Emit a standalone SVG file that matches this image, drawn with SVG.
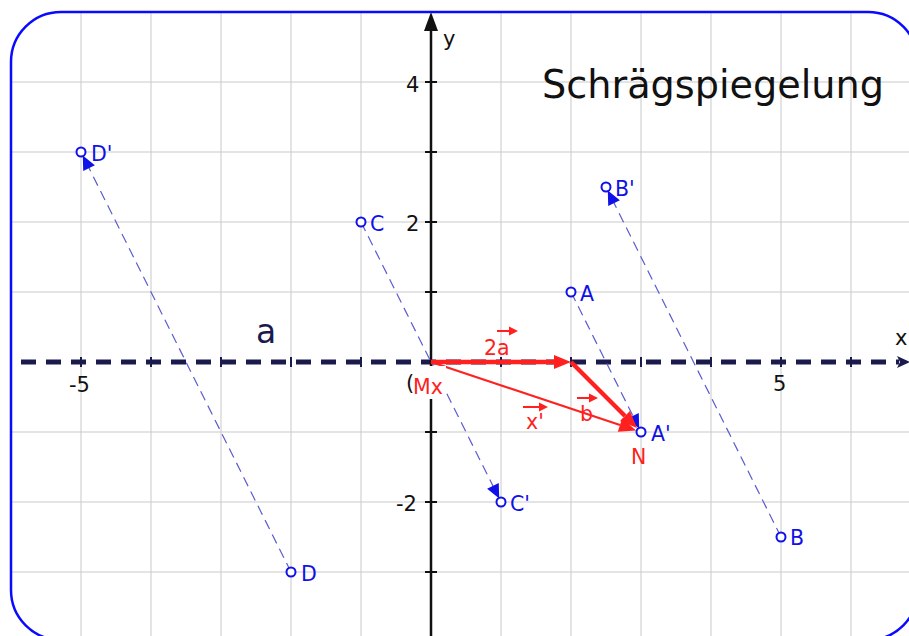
<svg xmlns="http://www.w3.org/2000/svg" width="909" height="636" viewBox="0 0 909 636">
  <style>
    .grid { stroke: #c9c9c9; stroke-width: 1; fill: none; }
    .proj { stroke: #5b5bd2; stroke-width: 1.2; stroke-dasharray: 10 6; fill: none; marker-end: url(#bh); }
    .pt { fill: #ffffff; stroke: #1010e8; stroke-width: 2; }
    .lbl { font-family: "DejaVu Sans", "Liberation Sans", sans-serif; font-size: 20.5px; fill: #1010e8; }
    .tick { font-family: "DejaVu Sans", "Liberation Sans", sans-serif; font-size: 21px; fill: #111111; }
    .red { font-family: "DejaVu Sans", "Liberation Sans", sans-serif; font-size: 20.5px; fill: #ff2020; }
    .vec { stroke: #ff2020; fill: none; marker-end: url(#rh); }
    .lvec { stroke: #ff2020; stroke-width: 2; fill: none; marker-end: url(#sh); }
  </style>
  <defs>
    <clipPath id="frame">
      <rect x="11" y="12" width="907" height="628" rx="50" ry="50"/>
    </clipPath>
    <marker id="bh" markerUnits="userSpaceOnUse" markerWidth="1" markerHeight="1" refX="0" refY="0" orient="auto" overflow="visible">
      <path d="M-4,0 L-18,-6.5 L-18,6.5 Z" fill="#1010e8"/>
    </marker>
    <marker id="rh" markerUnits="userSpaceOnUse" markerWidth="1" markerHeight="1" refX="0" refY="0" orient="auto" overflow="visible">
      <path d="M0,-7 L17,0 L0,7 Z" fill="#ff2020"/>
    </marker>
    <marker id="sh" markerUnits="userSpaceOnUse" markerWidth="1" markerHeight="1" refX="0" refY="0" orient="auto" overflow="visible">
      <path d="M0,-4.5 L9,0 L0,4.5 Z" fill="#ff2020"/>
    </marker>
  </defs>

  <rect x="0" y="0" width="909" height="636" fill="#ffffff"/>

  <g id="background" clip-path="url(#frame)">
    <g id="grid" class="grid">
      <path d="M81,0V640M151,0V640M221,0V640M291,0V640M361,0V640M501,0V640M571,0V640M641,0V640M711,0V640M781,0V640M851,0V640"/>
      <path d="M0,82H918M0,152H918M0,222H918M0,292H918M0,432H918M0,502H918M0,572H918"/>
    </g>

    <g id="axes">
      <line x1="11" y1="362" x2="899" y2="362" stroke="#1a1a4d" stroke-width="5" stroke-dasharray="15 10" stroke-dashoffset="15"/>
      <path d="M897,356 L910,362 L897,368 L900,362 Z" fill="#1a1a4d"/>
      <path d="M81,357V367M151,357V367M221,357V367M291,357V367M361,357V367M501,357V367M571,357V367M641,357V367M711,357V367M781,357V367M851,357V367" stroke="#1a1a4d" stroke-width="2"/>
      <line x1="431" y1="640" x2="431" y2="28" stroke="#111111" stroke-width="2.5"/>
      <path d="M431,12 L438,31 L424,31 Z" fill="#111111"/>
      <path d="M425,82H437M425,152H437M425,222H437M425,292H437M425,432H437M425,502H437M425,572H437" stroke="#111111" stroke-width="2"/>
      <text class="tick" x="406" y="92">4</text>
      <text class="tick" x="406" y="231">2</text>
      <text class="tick" x="396" y="511">-2</text>
      <text class="tick" x="69" y="392">-5</text>
      <text class="tick" x="773" y="391">5</text>
      <text class="tick" x="406" y="390" font-size="17">(</text>
      <text class="tick" x="895" y="345" font-size="20">x</text>
      <text class="tick" x="443" y="46" font-size="22">y</text>
      <text x="256" y="343" font-family="DejaVu Sans, Liberation Sans, sans-serif" font-size="33" fill="#1a1a4d">a</text>
    </g>

    <g id="connectors">
      <line class="proj" x1="291" y1="572" x2="81" y2="152"/>
      <line class="proj" x1="361" y1="222" x2="501" y2="502"/>
      <line class="proj" x1="571" y1="292" x2="641" y2="432"/>
      <line class="proj" x1="781" y1="537" x2="606" y2="187"/>
      <line id="vec-2a" class="vec" stroke-width="4.5" x1="431" y1="362" x2="554" y2="362"/>
      <line id="vec-b" class="vec" stroke-width="4.5" x1="571" y1="362" x2="625" y2="416"/>
      <line id="vec-x" class="vec" stroke-width="2" x1="431" y1="362" x2="620" y2="425"/>
    </g>

    <g id="label-Mx">
      <rect x="413" y="366" width="33" height="33" fill="#ffffff"/>
      <text class="red" x="413" y="394">Mx</text>
    </g>
    <g id="label-2a">
      <text class="red" x="484" y="355">2a</text>
      <line class="lvec" x1="497" y1="331" x2="509" y2="331"/>
    </g>
    <g id="label-b">
      <text class="red" x="580" y="421">b</text>
      <line class="lvec" x1="577" y1="398" x2="589" y2="398"/>
    </g>
    <g id="label-xp">
      <text class="red" x="526" y="429">x'</text>
      <line class="lvec" x1="523" y1="407" x2="539" y2="407"/>
    </g>
    <g id="label-N">
      <text class="red" x="631" y="464">N</text>
    </g>

    <g id="point-D">
      <circle class="pt" cx="291" cy="572" r="4.5"/>
      <text class="lbl" x="301" y="581">D</text>
    </g>
    <g id="point-Dp">
      <circle class="pt" cx="81" cy="152" r="4.5"/>
      <text class="lbl" x="91" y="161">D'</text>
    </g>
    <g id="point-C">
      <circle class="pt" cx="361" cy="222" r="4.5"/>
      <text class="lbl" x="370" y="231">C</text>
    </g>
    <g id="point-Cp">
      <circle class="pt" cx="501" cy="502" r="4.5"/>
      <text class="lbl" x="510" y="511">C'</text>
    </g>
    <g id="point-A">
      <circle class="pt" cx="571" cy="292" r="4.5"/>
      <text class="lbl" x="580" y="301">A</text>
    </g>
    <g id="point-Ap">
      <circle class="pt" cx="641" cy="432" r="4.5"/>
      <text class="lbl" x="651" y="441">A'</text>
    </g>
    <g id="point-B">
      <circle class="pt" cx="781" cy="537" r="4.5"/>
      <text class="lbl" x="790" y="545">B</text>
    </g>
    <g id="point-Bp">
      <circle class="pt" cx="606" cy="187" r="4.5"/>
      <text class="lbl" x="615" y="196">B'</text>
    </g>

    <g id="title">
      <text x="542" y="98" font-family="DejaVu Sans, Liberation Sans, sans-serif" font-size="39" fill="#111111" textLength="342" lengthAdjust="spacingAndGlyphs">Schrägspiegelung</text>
    </g>
  </g>

  <rect id="border" x="11" y="12" width="907" height="628" rx="50" ry="50" fill="none" stroke="#0a0aff" stroke-width="2.5"/>
</svg>
